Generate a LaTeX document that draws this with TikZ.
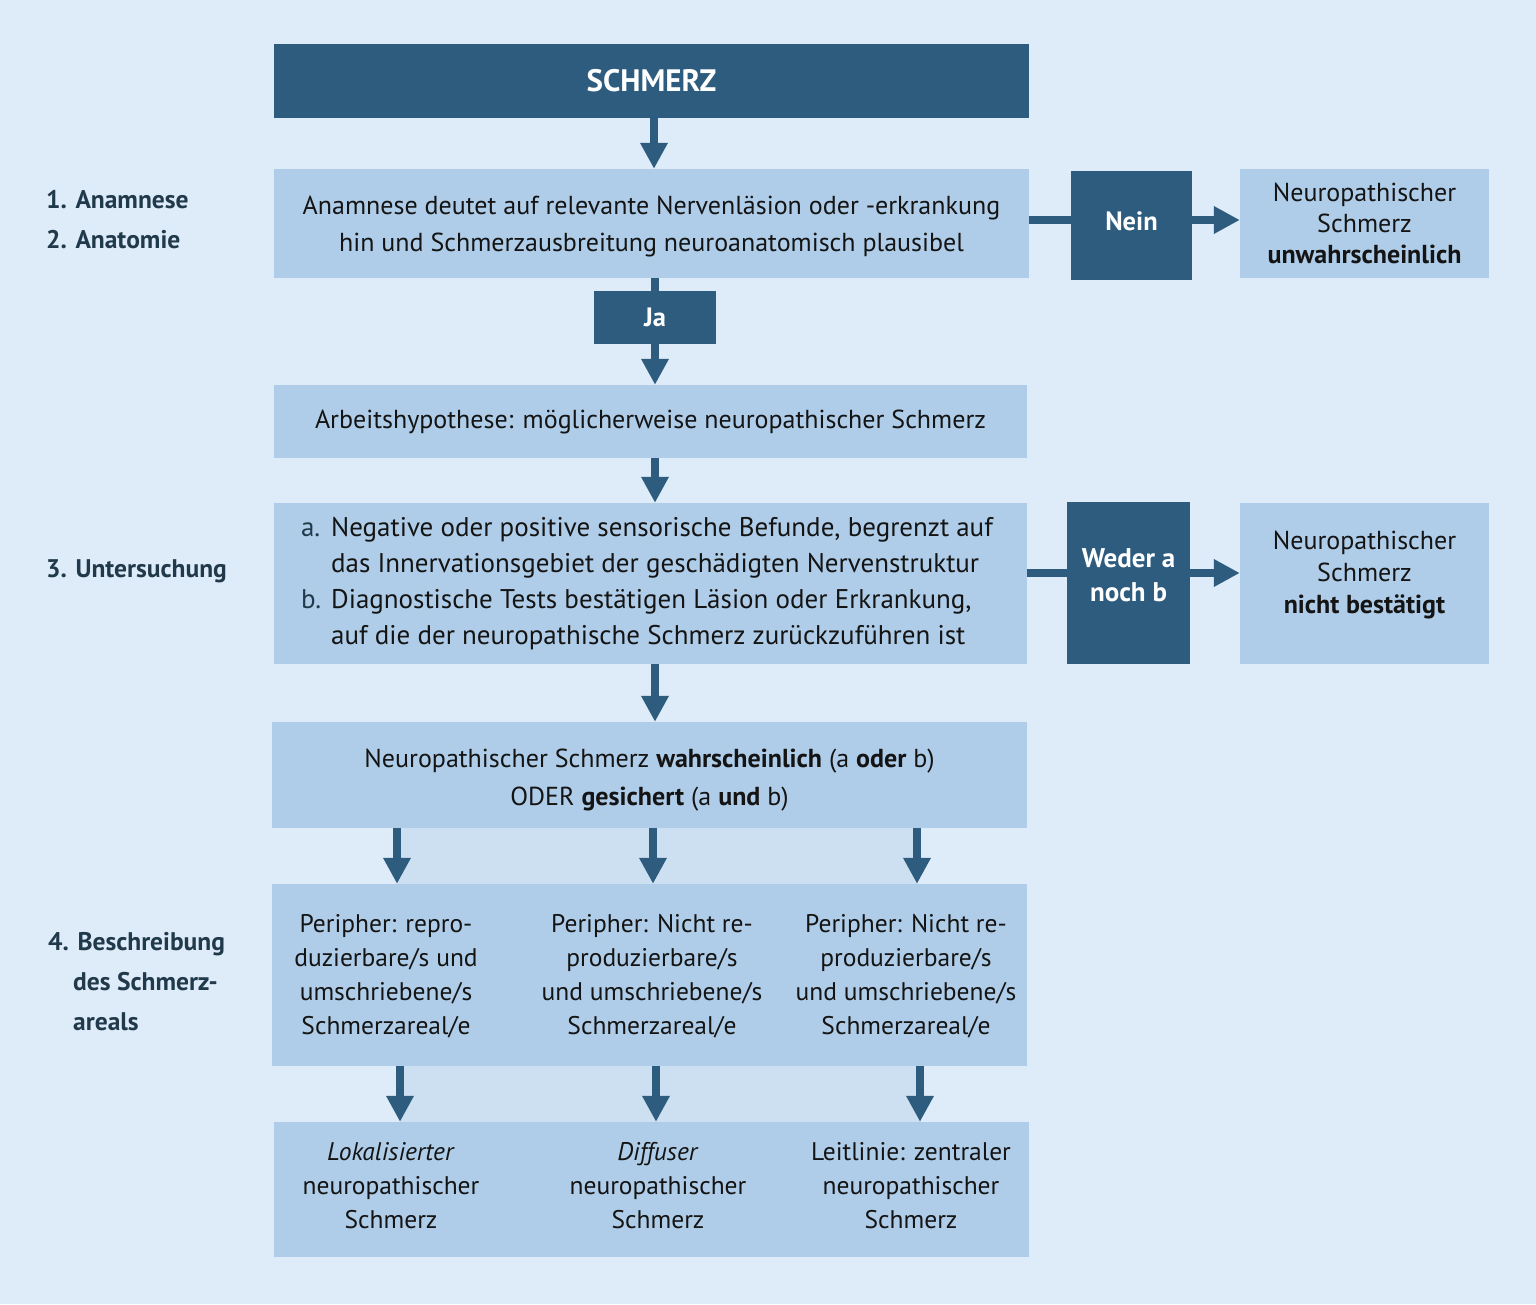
\documentclass[tikz,border=0pt]{standalone}
\usepackage{fontspec}
\setmainfont{PT Sans}
\usetikzlibrary{arrows.meta}
\definecolor{bgc}{HTML}{DEEBF8}
\definecolor{boxc}{HTML}{AFCDE8}
\definecolor{darkc}{HTML}{2E5C7F}
\definecolor{bandc}{HTML}{CDE0F1}
\definecolor{txtc}{HTML}{141414}
\definecolor{lblc}{HTML}{203A4C}
\tikzset{
  lightbox/.style={fill=boxc, inner sep=0pt, text=txtc, align=center, font=\fontsize{26}{37}\selectfont},
  darkbox/.style={fill=darkc, inner sep=0pt, text=white, align=center, font=\bfseries\fontsize{26.5}{34}\selectfont},
  boxtext/.style={inner sep=0pt, text=txtc, align=center, font=\fontsize{26}{37}\selectfont},
  darktext/.style={inner sep=0pt, text=white, align=center, font=\bfseries\fontsize{26.5}{34}\selectfont},
  coltext/.style={inner sep=0pt, text=txtc, align=center, font=\fontsize{25.5}{34}\selectfont},
  sidelabel/.style={inner sep=0pt, text=lblc, align=left, anchor=west, font=\bfseries\fontsize{25.5}{40}\selectfont},
  flow/.style={draw=darkc, line width=8pt, -{Triangle[width=26pt,length=26pt]}},
  plainline/.style={draw=darkc, line width=8pt}
}
\begin{document}
\begin{tikzpicture}[x=1pt,y=-1pt]
\useasboundingbox[fill=bgc] (0,0) rectangle (1536,1304);
% bands
\fill[bandc] (397,828) rectangle (918,884);
\fill[bandc] (400,1066) rectangle (921,1122);
% nodes
\node[darkbox, minimum width=755pt, minimum height=74pt, font=\bfseries\fontsize{31}{34}\selectfont] (top) at (651.5,81) {SCHMERZ};
\node[lightbox, minimum width=755pt, minimum height=109pt] (b1) at (651.5,223.5) {};
\node[boxtext] (b1txt) at (651.5,227) {Anamnese deutet auf relevante Nervenläsion oder -erkrankung\\hin und Schmerzausbreitung neuroanatomisch plausibel};
\node[darkbox, minimum width=121pt, minimum height=109pt] (nein) at (1131.5,225.5) {};
\node[darktext] (neintxt) at (1131.5,221) {Nein};
\node[lightbox, minimum width=249pt, minimum height=109pt, font=\fontsize{26}{31}\selectfont] (unw) at (1364.5,223.5) {Neuropathischer\\Schmerz\\\textbf{unwahrscheinlich}};
\node[darkbox, minimum width=122pt, minimum height=53pt] (ja) at (655,317.5) {Ja};
\node[lightbox, minimum width=753pt, minimum height=73pt] (arb) at (650.5,421.5) {Arbeitshypothese: möglicherweise neuropathischer Schmerz};
\node[lightbox, minimum width=753pt, minimum height=161pt] (unt) at (650.5,583.5) {};
\node[boxtext, align=left, font=\fontsize{27}{36}\selectfont] (unttxt) at (647,583.5) {%
\begin{tabular}{@{}l@{\hspace{10pt}}l@{}}
\textcolor{lblc}{a.} & Negative oder positive sensorische Befunde, begrenzt auf\\
 & das Innervationsgebiet der geschädigten Nervenstruktur\\
\textcolor{lblc}{b.} & Diagnostische Tests bestätigen Läsion oder Erkrankung,\\
 & auf die der neuropathische Schmerz zurückzuführen ist
\end{tabular}};
\node[darkbox, minimum width=123pt, minimum height=162pt] (weder) at (1128.5,583) {};
\node[darktext, font=\bfseries\fontsize{27}{34}\selectfont] (wedertxt) at (1128.5,575) {Weder a\\noch b};
\node[lightbox, minimum width=249pt, minimum height=161pt] (nb) at (1364.5,583.5) {};
\node[boxtext, font=\fontsize{26}{32}\selectfont] (nbtxt) at (1364.5,575.5) {Neuropathischer\\Schmerz\\\textbf{nicht bestätigt}};
\node[lightbox, minimum width=755pt, minimum height=106pt] (wahr) at (649.5,775) {};
\node[boxtext, font=\fontsize{26}{38}\selectfont] (wahrtxt) at (649.5,780) {Neuropathischer Schmerz \textbf{wahrscheinlich} (a \textbf{oder} b)\\ODER \textbf{gesichert} (a \textbf{und} b)};
\node[lightbox, minimum width=755pt, minimum height=182pt] (per) at (649.5,975) {};
\node[coltext] (p1) at (386,976) {Peripher: repro-\\duzierbare/s und\\umschriebene/s\\Schmerzareal/e};
\node[coltext] (p2) at (652,976) {Peripher: Nicht re-\\produzierbare/s\\und umschriebene/s\\Schmerzareal/e};
\node[coltext] (p3) at (906,976) {Peripher: Nicht re-\\produzierbare/s\\und umschriebene/s\\Schmerzareal/e};
\node[lightbox, minimum width=755pt, minimum height=135pt] (fin) at (651.5,1189.5) {};
\node[coltext] (f1) at (391,1186) {\textit{Lokalisierter}\\neuropathischer\\Schmerz};
\node[coltext] (f2) at (658,1186) {\textit{Diffuser}\\neuropathischer\\Schmerz};
\node[coltext] (f3) at (911,1186) {Leitlinie: zentraler\\neuropathischer\\Schmerz};
% side labels
\node[sidelabel] (l1) at (46,220) {1. Anamnese\\2. Anatomie};
\node[sidelabel] (l3) at (46,571) {3. Untersuchung};
\node[sidelabel] (l4) at (48,982) {4. Beschreibung\\\hspace*{25pt}des Schmerz-\\\hspace*{25pt}areals};
% connectors
\draw[flow] (top.south -| 654,0) -- (b1.north -| 654,0);
\draw[plainline] (b1.south -| ja.north) -- (ja.north);
\draw[flow] (ja.south) -- (arb.north -| ja.south);
\draw[flow] (arb.south -| 655,0) -- (unt.north -| 655,0);
\draw[flow] (unt.south -| 655,0) -- (wahr.north -| 655,0);
\draw[plainline] (b1.east |- 0,220) -- (nein.west |- 0,220);
\draw[flow] (nein.east |- 0,220) -- (unw.west |- 0,220);
\draw[plainline] (unt.east |- 0,573) -- (weder.west |- 0,573);
\draw[flow] (weder.east |- 0,573) -- (nb.west |- 0,573);
\coordinate (c1) at (397,828);
\coordinate (c2) at (653,828);
\coordinate (c3) at (917,828);
\draw[flow] (c1) -- (c1 |- per.north);
\draw[flow] (c2) -- (c2 |- per.north);
\draw[flow] (c3) -- (c3 |- per.north);
\coordinate (d1) at (400,1066);
\coordinate (d2) at (656,1066);
\coordinate (d3) at (920,1066);
\draw[flow] (d1) -- (d1 |- fin.north);
\draw[flow] (d2) -- (d2 |- fin.north);
\draw[flow] (d3) -- (d3 |- fin.north);
\end{tikzpicture}
\end{document}
